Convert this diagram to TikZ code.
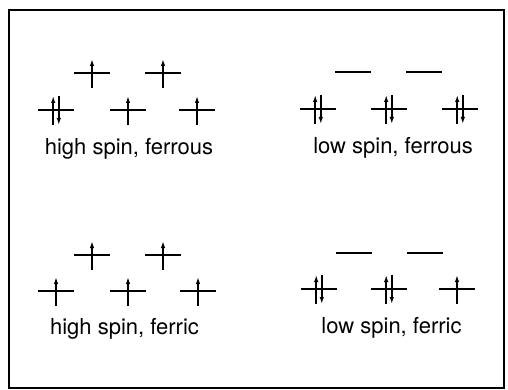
\documentclass[tikz,border=0pt]{standalone}
\usepackage{fontspec}
\setmainfont{TeX Gyre Heros}
\usetikzlibrary{arrows.meta}
\begin{document}
\begin{tikzpicture}[x=1pt,y=-1pt,
  lvl/.style={line width=2.4pt},
  spin/.style={line width=2pt,-{Latex[length=7pt,width=4.5pt]}},
  lab/.style={font=\fontsize{22}{26}\selectfont, inner sep=0pt, anchor=base},
  frame/.style={line width=2.2pt},
  pics/emptylvl/.style={code={\draw[lvl] (-18,0)--(18,0);}},
  pics/uplvl/.style={code={\draw[lvl] (-18,0)--(18,0); \draw[spin] (0,15)--(0,-14);}},
  pics/pairlvl/.style={code={\draw[lvl] (-18,0)--(18,0);
      \draw[spin] (-2.8,15)--(-2.8,-14); \draw[spin] (2.8,-14)--(2.8,15);}},
]
\useasboundingbox (0,0) rectangle (508,390);
\draw[frame] (9,10) rectangle (504,388);

% high spin, ferrous
\pic (hf1) at (92,73) {uplvl};
\pic (hf2) at (163,73) {uplvl};
\pic (hf3) at (56,110) {pairlvl};
\pic (hf4) at (128,110) {uplvl};
\pic (hf5) at (197,110) {uplvl};
\node[lab] (hfl) at (129,155) {high spin, ferrous};

% low spin, ferrous
\pic (lf1) at (353,72) {emptylvl};
\pic (lf2) at (424,72) {emptylvl};
\pic (lf3) at (318,109) {pairlvl};
\pic (lf4) at (389,109) {pairlvl};
\pic (lf5) at (460,109) {pairlvl};
\node[lab] (lfl) at (393,154) {low spin, ferrous};

% high spin, ferric
\pic (hc1) at (92,255) {uplvl};
\pic (hc2) at (163,255) {uplvl};
\pic (hc3) at (56,291) {uplvl};
\pic (hc4) at (128,291) {uplvl};
\pic (hc5) at (198,291) {uplvl};
\node[lab] (hcl) at (124.5,334) {high spin, ferric};

% low spin, ferric
\pic (lc1) at (354,253) {emptylvl};
\pic (lc2) at (425,253) {emptylvl};
\pic (lc3) at (319,289) {pairlvl};
\pic (lc4) at (389,289) {pairlvl};
\pic (lc5) at (457,289) {uplvl};
\node[lab] (lcl) at (391.5,333) {low spin, ferric};
\end{tikzpicture}
\end{document}
